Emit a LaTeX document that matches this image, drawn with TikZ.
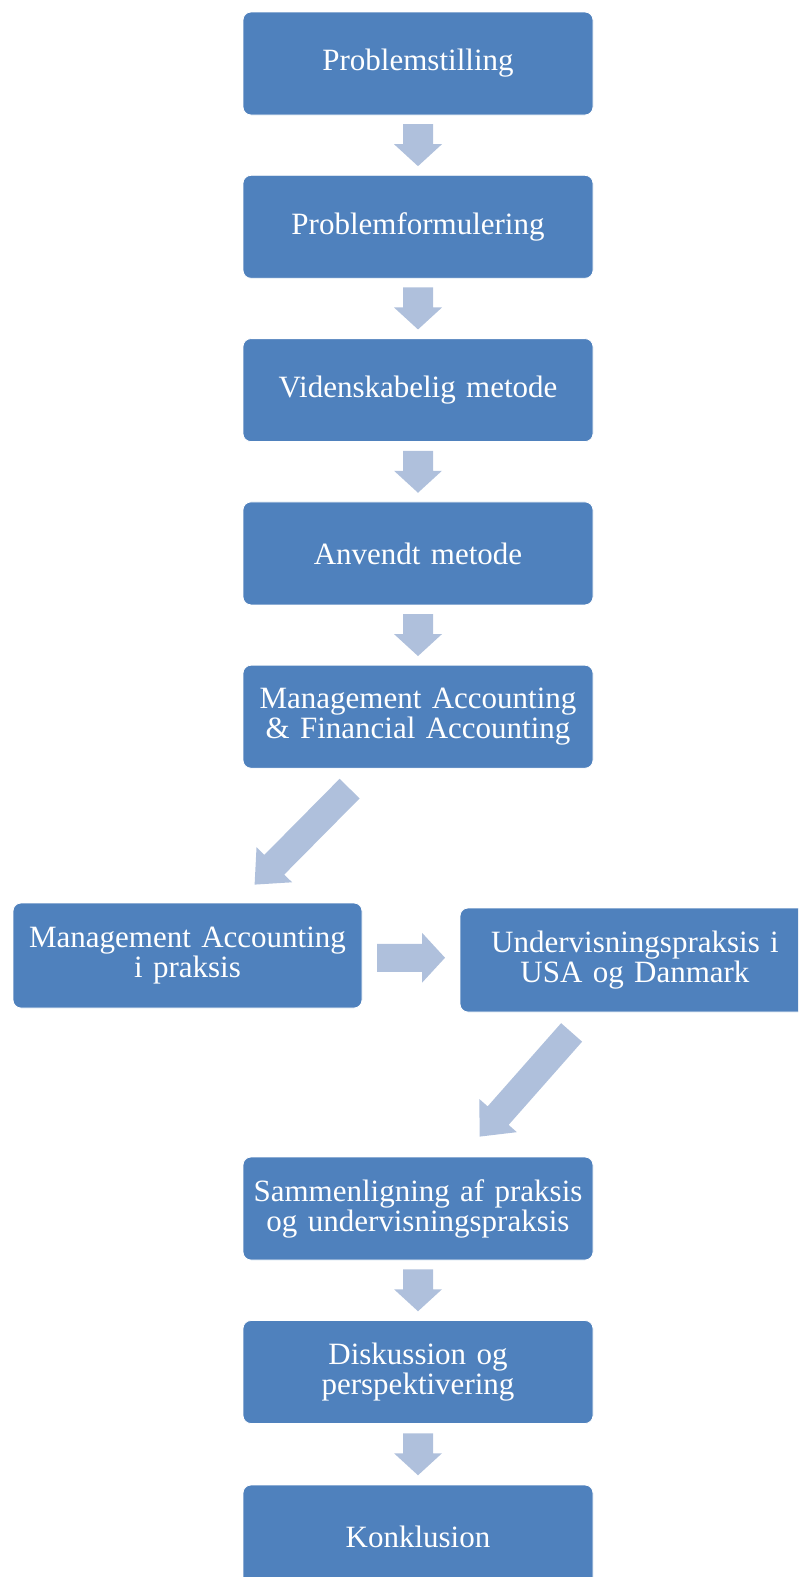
\documentclass[tikz,border=0pt]{standalone}
\usepackage{fontspec}
\setmainfont{Liberation Serif}
\usetikzlibrary{calc}

\definecolor{boxblue}{HTML}{4F81BD}
\definecolor{arrowblue}{HTML}{AFC0DC}

\tikzset{
  stage/.style={draw=white, line width=0.8pt, fill=boxblue, rounded corners=8pt,
    minimum width=350pt, minimum height=103pt, text width=340pt, align=center,
    text=white, font=\fontsize{31}{30}\selectfont, inner sep=0pt},
  flowarrow/.style={fill=arrowblue},
}

% block arrow: tail, tip, shaft half width, head half width, head length
\newcommand\blockarrow[5]{%
  \coordinate (ba-h) at ($(#2)!#5!(#1)$);
  \fill[flowarrow] ($(#1)!#3!90:(#2)$) -- ($(ba-h)!#3!90:(#2)$) -- ($(ba-h)!#4!90:(#2)$)
    -- (#2) -- ($(ba-h)!#4!-90:(#2)$) -- ($(ba-h)!#3!-90:(#2)$) -- ($(#1)!#3!-90:(#2)$) -- cycle;
}

\begin{document}
\begin{tikzpicture}[x=1pt,y=1pt]
\useasboundingbox (0,0) rectangle (798,-1577);
\clip (0,0) rectangle (798,-1577);

% main column
\node[stage] (b1) at (418,-63.5) {Problemstilling};
\node[stage] (b2) at (418,-226.8) {Problemformulering};
\node[stage] (b3) at (418,-390.1) {Videnskabelig metode};
\node[stage] (b4) at (418,-553.4) {Anvendt metode};
\node[stage] (b5) at (418,-716.7) {Management Accounting\\ \& Financial Accounting};

% side-by-side pair
\node[stage, minimum width=349pt, minimum height=105pt] (lb) at (187.5,-955.5) {Management Accounting\\ i praksis};
\node[stage, minimum height=104pt] (rb) at (635,-960) {Undervisningspraksis i\\ USA og Danmark};

% lower column
\node[stage] (b8) at (418,-1208.5) {Sammenligning af praksis\\ og undervisningspraksis};
\node[stage] (b9) at (418,-1372) {Diskussion og\\ perspektivering};
\node[stage] (b10) at (418,-1536.5) {Konklusion};

% vertical arrows between stacked stages
\foreach \a/\b in {b1/b2, b2/b3, b3/b4, b4/b5, b8/b9, b9/b10}{
  \coordinate (m) at ($(\a.south)!0.5!(\b.north)$);
  \coordinate (t0) at ($(m)+(0,21)$);
  \coordinate (t1) at ($(m)+(0,-21)$);
  \blockarrow{t0}{t1}{15pt}{24pt}{22pt}
}

% diagonal arrow into the left box
\coordinate (d1a) at ($(b5.south west)+(107,-20)$);
\coordinate (d1b) at ($(lb.north west)+(242,18)$);
\blockarrow{d1a}{d1b}{14pt}{25pt}{28pt}

% horizontal arrow between the pair
\coordinate (hm) at ($(lb.east)!0.5!(rb.west)$);
\coordinate (h0) at ($(hm)+(-34,0)$);
\coordinate (h1) at ($(hm)+(34,0)$);
\blockarrow{h0}{h1}{14pt}{25pt}{23pt}

% diagonal arrow into the comparison box
\coordinate (d2a) at ($(rb.south west)+(112,-20)$);
\coordinate (d2b) at ($(b8.north west)+(237,20)$);
\blockarrow{d2a}{d2b}{14pt}{25pt}{28pt}
\end{tikzpicture}
\end{document}
